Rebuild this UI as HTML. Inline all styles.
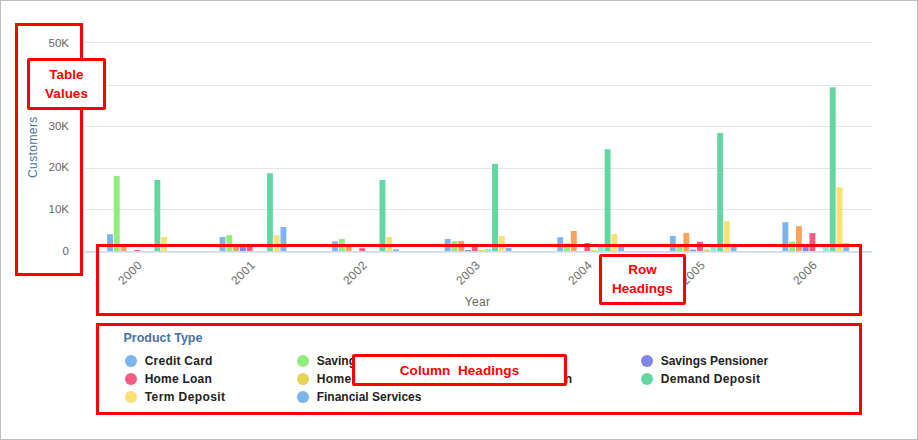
<!DOCTYPE html>
<html><head><meta charset="utf-8"><title>Chart</title>
<style>
html,body{margin:0;padding:0;background:#fff;}
body{width:918px;height:440px;position:relative;overflow:hidden;font-family:"Liberation Sans",sans-serif;}
.frame{position:absolute;left:0;top:0;width:916px;height:438px;border:1px solid #bfbfbf;}
svg{position:absolute;left:0;top:0;}
.yl{position:absolute;left:20px;width:49px;text-align:right;font-size:11.5px;line-height:15px;color:#666;}
.xl{position:absolute;width:60px;text-align:right;font-size:12px;letter-spacing:0.3px;line-height:14px;color:#6e6e6e;transform:rotate(-45deg);transform-origin:100% 50%;}
.rb{position:absolute;border:3px solid #f00;box-sizing:border-box;}
.rbw{background:#fff;color:#f00;font-weight:bold;font-size:13.5px;text-align:center;line-height:18.6px;border-radius:2px;}
.dot{position:absolute;width:12px;height:12px;border-radius:50%;}
.lt{position:absolute;font-size:12px;line-height:16px;font-weight:bold;color:#222;white-space:nowrap;}
</style></head><body>
<div class="frame"></div>
<svg width="918" height="440" viewBox="0 0 918 440">
<rect x="84.5" y="42" width="787.5" height="1" fill="#e6e6e6"/><rect x="84.5" y="85" width="787.5" height="1" fill="#e6e6e6"/><rect x="84.5" y="126" width="787.5" height="1" fill="#e6e6e6"/><rect x="84.5" y="168" width="787.5" height="1" fill="#e6e6e6"/><rect x="84.5" y="209" width="787.5" height="1" fill="#e6e6e6"/>
<rect x="107.05" y="234.2" width="5.9" height="17.3" fill="#7cb5ec"/><rect x="113.81" y="175.8" width="5.9" height="75.7" fill="#90ed7d"/><rect x="120.58" y="245.5" width="5.9" height="6.0" fill="#f7a35c"/><rect x="134.11" y="250.0" width="5.9" height="1.5" fill="#f15c80"/><rect x="154.41" y="180.0" width="5.9" height="71.5" fill="#62d7a1"/><rect x="161.17" y="237.0" width="5.9" height="14.5" fill="#fde074"/><rect x="219.61" y="237.0" width="5.9" height="14.5" fill="#7cb5ec"/><rect x="226.38" y="235.2" width="5.9" height="16.3" fill="#90ed7d"/><rect x="233.14" y="245.5" width="5.9" height="6.0" fill="#f7a35c"/><rect x="239.91" y="246.0" width="5.9" height="5.5" fill="#8085e9"/><rect x="246.67" y="245.5" width="5.9" height="6.0" fill="#f15c80"/><rect x="266.97" y="173.2" width="5.9" height="78.3" fill="#62d7a1"/><rect x="273.73" y="235.2" width="5.9" height="16.3" fill="#fde074"/><rect x="280.50" y="227.0" width="5.9" height="24.5" fill="#7cb5ec"/><rect x="332.17" y="241.3" width="5.9" height="10.2" fill="#7cb5ec"/><rect x="338.94" y="239.0" width="5.9" height="12.5" fill="#90ed7d"/><rect x="345.70" y="245.5" width="5.9" height="6.0" fill="#f7a35c"/><rect x="359.23" y="248.2" width="5.9" height="3.3" fill="#f15c80"/><rect x="379.53" y="180.0" width="5.9" height="71.5" fill="#62d7a1"/><rect x="386.29" y="237.0" width="5.9" height="14.5" fill="#fde074"/><rect x="393.06" y="249.3" width="5.9" height="2.2" fill="#7cb5ec"/><rect x="444.73" y="239.0" width="5.9" height="12.5" fill="#7cb5ec"/><rect x="451.50" y="241.2" width="5.9" height="10.3" fill="#90ed7d"/><rect x="458.26" y="241.0" width="5.9" height="10.5" fill="#f7a35c"/><rect x="465.03" y="250.0" width="5.9" height="1.5" fill="#8085e9"/><rect x="471.79" y="246.0" width="5.9" height="5.5" fill="#f15c80"/><rect x="478.56" y="250.0" width="5.9" height="1.5" fill="#e4d354"/><rect x="485.32" y="249.0" width="5.9" height="2.5" fill="#91e8e1"/><rect x="492.09" y="163.8" width="5.9" height="87.7" fill="#62d7a1"/><rect x="498.85" y="236.2" width="5.9" height="15.3" fill="#fde074"/><rect x="505.62" y="248.0" width="5.9" height="3.5" fill="#7cb5ec"/><rect x="557.29" y="237.2" width="5.9" height="14.3" fill="#7cb5ec"/><rect x="564.05" y="243.2" width="5.9" height="8.3" fill="#90ed7d"/><rect x="570.82" y="231.0" width="5.9" height="20.5" fill="#f7a35c"/><rect x="584.35" y="243.0" width="5.9" height="8.5" fill="#f15c80"/><rect x="591.12" y="250.0" width="5.9" height="1.5" fill="#e4d354"/><rect x="597.88" y="246.5" width="5.9" height="5.0" fill="#91e8e1"/><rect x="604.64" y="149.2" width="5.9" height="102.3" fill="#62d7a1"/><rect x="611.41" y="234.0" width="5.9" height="17.5" fill="#fde074"/><rect x="618.17" y="247.0" width="5.9" height="4.5" fill="#7cb5ec"/><rect x="669.85" y="236.0" width="5.9" height="15.5" fill="#7cb5ec"/><rect x="676.61" y="246.0" width="5.9" height="5.5" fill="#90ed7d"/><rect x="683.38" y="232.9" width="5.9" height="18.6" fill="#f7a35c"/><rect x="690.14" y="249.7" width="5.9" height="1.8" fill="#8085e9"/><rect x="696.91" y="241.8" width="5.9" height="9.7" fill="#f15c80"/><rect x="703.67" y="249.4" width="5.9" height="2.1" fill="#e4d354"/><rect x="710.44" y="246.0" width="5.9" height="5.5" fill="#91e8e1"/><rect x="717.20" y="133.0" width="5.9" height="118.5" fill="#62d7a1"/><rect x="723.97" y="221.1" width="5.9" height="30.4" fill="#fde074"/><rect x="730.73" y="246.0" width="5.9" height="5.5" fill="#7cb5ec"/><rect x="782.41" y="222.2" width="5.9" height="29.3" fill="#7cb5ec"/><rect x="789.17" y="241.5" width="5.9" height="10.0" fill="#90ed7d"/><rect x="795.94" y="226.2" width="5.9" height="25.3" fill="#f7a35c"/><rect x="802.70" y="245.5" width="5.9" height="6.0" fill="#8085e9"/><rect x="809.47" y="233.1" width="5.9" height="18.4" fill="#f15c80"/><rect x="823.00" y="246.0" width="5.9" height="5.5" fill="#91e8e1"/><rect x="829.76" y="87.3" width="5.9" height="164.2" fill="#62d7a1"/><rect x="836.53" y="187.3" width="5.9" height="64.2" fill="#fde074"/><rect x="843.29" y="243.3" width="5.9" height="8.2" fill="#7cb5ec"/>
<rect x="84.5" y="251" width="787.5" height="1.7" fill="#d0d9ec"/>
</svg>
<div class="yl" style="top:244px">0</div><div class="yl" style="top:202px">10K</div><div class="yl" style="top:160px">20K</div><div class="yl" style="top:119px">30K</div><div class="yl" style="top:77px">40K</div><div class="yl" style="top:36px">50K</div>
<div style="position:absolute;left:26px;top:177.6px;font-size:12px;letter-spacing:0.42px;line-height:14px;color:#4d759e;white-space:nowrap;transform:rotate(-90deg);transform-origin:0 0;">Customers</div>
<div class="xl" style="left:80.15px;top:256.1px">2000</div><div class="xl" style="left:192.65px;top:256.1px">2001</div><div class="xl" style="left:305.15px;top:256.1px">2002</div><div class="xl" style="left:417.65px;top:256.1px">2003</div><div class="xl" style="left:530.15px;top:256.1px">2004</div><div class="xl" style="left:642.65px;top:256.1px">2005</div><div class="xl" style="left:755.15px;top:256.1px">2006</div>
<div style="position:absolute;left:427.6px;top:294px;width:100px;text-align:center;font-size:12px;letter-spacing:0.4px;line-height:16px;color:#666;">Year</div>
<div style="position:absolute;left:123.5px;top:330px;font-size:12.5px;line-height:16px;font-weight:bold;color:#4572a7;">Product Type</div>
<div class="dot" style="left:125.0px;top:354.7px;background:#7cb5ec"></div><div class="lt" style="left:144.7px;top:353.3px;letter-spacing:0.24px">Credit Card</div><div class="dot" style="left:297.0px;top:354.7px;background:#90ed7d"></div><div class="lt" style="left:316.7px;top:353.3px;">Savings</div><div class="dot" style="left:641.0px;top:354.7px;background:#8085e9"></div><div class="lt" style="left:660.7px;top:353.3px;">Savings Pensioner</div><div class="dot" style="left:125.0px;top:372.7px;background:#f15c80"></div><div class="lt" style="left:144.7px;top:371.3px;letter-spacing:0.21px">Home Loan</div><div class="dot" style="left:297.0px;top:372.7px;background:#e4d354"></div><div class="lt" style="left:316.7px;top:371.3px;letter-spacing:0.4px">Home Equity</div><div class="dot" style="left:469.0px;top:372.7px;background:#91e8e1"></div><div class="lt" style="left:488.7px;top:371.3px;margin-left:0.7px">Personal Loan</div><div class="dot" style="left:641.0px;top:372.7px;background:#62d7a1"></div><div class="lt" style="left:660.7px;top:371.3px;letter-spacing:0.35px">Demand Deposit</div><div class="dot" style="left:125.0px;top:390.7px;background:#fde074"></div><div class="lt" style="left:144.7px;top:389.3px;letter-spacing:0.42px">Term Deposit</div><div class="dot" style="left:297.0px;top:390.7px;background:#7cb5ec"></div><div class="lt" style="left:316.7px;top:389.3px;">Financial Services</div>
<div class="rb" style="left:15px;top:23px;width:68px;height:253px;"></div>
<div class="rb" style="left:96px;top:244px;width:766px;height:72px;"></div>
<div class="rb" style="left:96px;top:323px;width:766px;height:92px;"></div>
<div class="rb rbw" style="left:27px;top:58px;width:79px;height:52px;padding-top:3.9px;line-height:19px;">Table<br>Values</div>
<div class="rb rbw" style="left:599px;top:254px;width:87px;height:51px;padding-top:4px;">Row<br>Headings</div>
<div class="rb rbw" style="left:352px;top:354px;width:215px;height:32px;line-height:27px;letter-spacing:0.06px;">Column&nbsp; Headings</div>
</body></html>
